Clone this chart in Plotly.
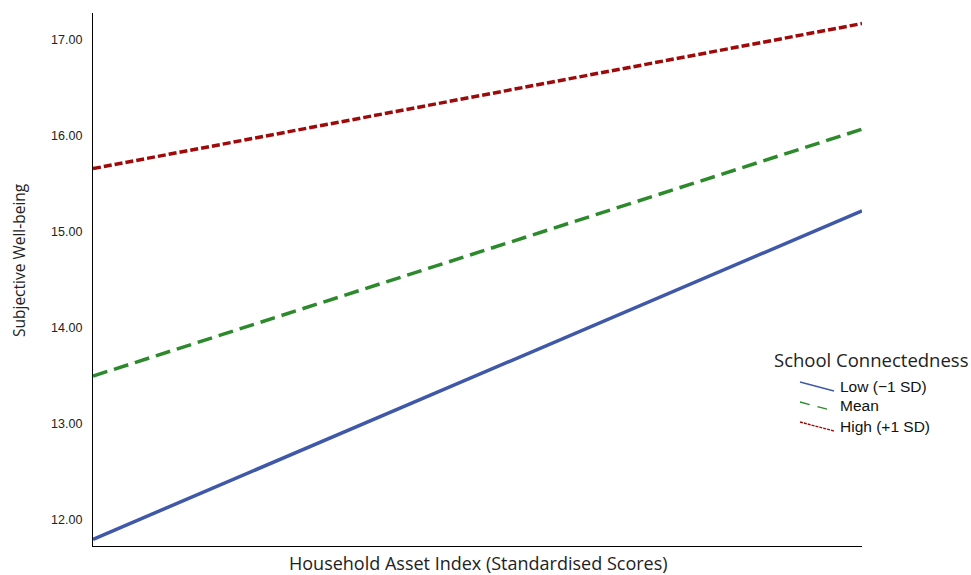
import plotly.graph_objects as go

# Simple slopes: subjective well-being vs household asset index
x_vals = [-1.0, 1.0]
series_names = ["Low (\u22121 SD)", "Mean", "High (+1 SD)"]
low_vals = [11.80, 15.22]
mean_vals = [13.50, 16.07]
high_vals = [15.66, 17.17]
y_ticks = [12, 13, 14, 15, 16, 17]
y_tick_labels = ["12.00", "13.00", "14.00", "15.00", "16.00", "17.00"]

colors = ["#3F58A8", "#2C8A2C", "#9E0A0A"]
dashes = ["solid", "15px,7px", "8px,3px"]
legend_dashes = ["solid", "10px,8px", "3px,1px"]

W, H = 971, 575
L, R, T, B = 93, 109, 13, 29
pw, ph = W - L - R, H - T - B


def px(xp):
    return (xp - L) / pw


def py(yp):
    return (H - B - yp) / ph


fig = go.Figure()
for name, vals, c, d in zip(series_names, [low_vals, mean_vals, high_vals], colors, dashes):
    fig.add_trace(go.Scatter(x=x_vals, y=vals, mode="lines", name=name,
                             line=dict(color=c, width=3.5, dash=d),
                             showlegend=False))

# Hand-drawn legend with slanted samples
shapes = []
annotations = []
legend_rows = [386, 406, 426]
for name, c, d, yr in zip(series_names, colors, legend_dashes, legend_rows):
    shapes.append(dict(type="line", xref="paper", yref="paper",
                       x0=px(800), y0=py(yr - 4), x1=px(834), y1=py(yr + 5),
                       line=dict(color=c, width=1.4, dash=d)))
    annotations.append(dict(text=name, xref="paper", yref="paper",
                            x=px(838), y=py(yr), xanchor="left", yanchor="middle",
                            showarrow=False,
                            font=dict(family="Liberation Sans, Arial", size=15.5, color="#111")))
annotations.append(dict(text="School Connectedness", xref="paper", yref="paper",
                        x=px(772), y=py(360), xanchor="left", yanchor="middle",
                        showarrow=False,
                        font=dict(family="Open Sans", size=18.5, color="#222")))
annotations.append(dict(text="Household Asset Index (Standardised Scores)", xref="paper", yref="paper",
                        x=px(478), y=py(563), xanchor="center", yanchor="middle",
                        showarrow=False,
                        font=dict(family="Open Sans", size=18, color="#222")))
annotations.append(dict(text="Subjective Well-being", xref="paper", yref="paper",
                        x=px(19), y=py(260), xanchor="center", yanchor="middle",
                        textangle=-90, showarrow=False,
                        font=dict(family="Open Sans", size=15.5, color="#222")))

fig.update_layout(
    width=W, height=H,
    margin=dict(l=L, r=R, t=T, b=B, pad=0),
    paper_bgcolor="white", plot_bgcolor="white",
    shapes=shapes, annotations=annotations,
    xaxis=dict(range=[-1, 1], showticklabels=False, ticks="", showgrid=False,
               zeroline=False, showline=True, linecolor="black", linewidth=1.2),
    yaxis=dict(range=[11.73, 17.28], tickvals=y_ticks, ticktext=y_tick_labels,
               ticks="", showgrid=False, zeroline=False, showline=True,
               linecolor="black", linewidth=1.2, ticklabelstandoff=7,
               tickfont=dict(family="Liberation Sans, Arial", size=12.5, color="#222")),
)

fig.write_html("out.html")
